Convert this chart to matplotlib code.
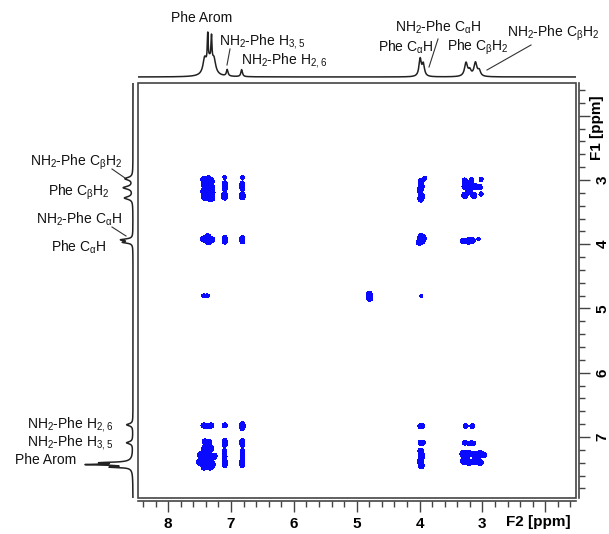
import numpy as np
import matplotlib.pyplot as plt
from matplotlib.lines import Line2D
from matplotlib.patches import Rectangle

plt.rcParams['font.family'] = 'Liberation Sans'
plt.rcParams['mathtext.fontset'] = 'custom'
plt.rcParams['mathtext.rm'] = 'Liberation Sans'
plt.rcParams['mathtext.it'] = 'Liberation Sans'

# 1D projection along F2 (top): ppm, height, half width
top_ppm = [7.37, 7.31, 7.42, 7.27, 7.34, 7.06, 6.83, 3.99, 3.94, 3.26, 3.20, 3.11, 3.05]
top_h = [0.50, 0.45, 0.25, 0.22, 0.30, 0.12, 0.13, 0.32, 0.22, 0.25, 0.10, 0.25, 0.10]
top_w = [0.008, 0.008, 0.03, 0.03, 0.06, 0.015, 0.015, 0.022, 0.022, 0.028, 0.025, 0.028, 0.025]

# 1D projection along F1 (left)
left_ppm = [7.43, 7.40, 7.47, 7.42, 7.09, 6.81, 3.97, 3.93, 3.28, 3.12, 2.98]
left_h = [0.70, 0.45, 0.35, 0.20, 0.12, 0.12, 0.18, 0.22, 0.16, 0.18, 0.15]
left_w = [0.008, 0.008, 0.008, 0.04, 0.02, 0.02, 0.015, 0.015, 0.025, 0.025, 0.025]

# cross peaks (F2 ppm, F1 ppm, amplitude), grouped by F1 row
cb_row = [(7.44, 2.99, 1.4), (7.36, 2.98, 1.6), (7.31, 3.02, 1.4),
          (7.42, 3.08, 1.6), (7.35, 3.10, 1.7), (7.30, 3.12, 1.5),
          (7.44, 3.18, 1.4), (7.36, 3.20, 1.7), (7.30, 3.20, 1.5),
          (7.42, 3.27, 1.6), (7.35, 3.28, 1.6), (7.30, 3.28, 1.4),
          (7.10, 2.96, 0.8), (7.10, 3.06, 1.2), (7.10, 3.13, 1.2), (7.10, 3.23, 1.3), (7.10, 3.27, 1.3),
          (6.82, 2.96, 0.8), (6.82, 3.06, 1.1), (6.82, 3.13, 1.1), (6.82, 3.23, 1.2), (6.82, 3.27, 1.2),
          (3.98, 3.02, 1.4), (3.97, 3.10, 1.4), (3.99, 3.16, 1.4), (3.97, 3.25, 1.5), (3.98, 3.30, 1.4),
          (3.91, 2.97, 0.8),
          (3.28, 3.01, 1.3), (3.17, 3.00, 1.0), (3.02, 2.99, 0.9),
          (3.28, 3.10, 1.5), (3.20, 3.08, 1.5), (3.12, 3.10, 1.4), (3.04, 3.11, 1.1),
          (3.28, 3.24, 1.8), (3.14, 3.24, 1.8), (3.21, 3.17, 1.2), (3.02, 3.22, 0.9)]
ca_row = [(7.44, 3.92, 1.4), (7.37, 3.88, 1.4), (7.36, 3.96, 1.4), (7.30, 3.93, 1.4),
          (7.10, 3.90, 1.1), (7.10, 3.96, 1.1), (6.82, 3.90, 1.0), (6.82, 3.96, 1.0),
          (3.98, 3.88, 1.5), (3.96, 3.95, 1.5), (4.01, 3.97, 1.4), (3.94, 3.90, 1.4),
          (3.30, 3.95, 1.5), (3.22, 3.95, 1.7), (3.16, 3.94, 1.3), (3.06, 3.92, 0.7)]
water_row = [(4.80, 4.78, 1.7), (4.79, 4.84, 1.7), (7.44, 4.80, 0.7), (7.37, 4.80, 0.7),
             (3.97, 4.80, 0.7)]
h26_row = [(7.44, 6.82, 1.1), (7.37, 6.83, 1.2), (7.31, 6.82, 1.0), (7.10, 6.82, 1.2),
           (6.82, 6.80, 1.2), (6.82, 6.86, 1.2), (3.99, 6.83, 0.9), (3.95, 6.83, 0.9),
           (3.27, 6.83, 1.1), (3.16, 6.83, 1.1)]
h35_row = [(7.42, 7.07, 1.2), (7.35, 7.08, 1.2), (7.10, 7.06, 1.1), (7.10, 7.12, 1.1),
           (6.82, 7.06, 1.0), (6.82, 7.12, 1.0), (3.99, 7.09, 0.9), (3.94, 7.09, 0.9),
           (3.28, 7.09, 1.0), (3.20, 7.10, 0.9), (3.14, 7.10, 0.9)]
arom_row = [(7.42, 7.18, 1.6), (7.32, 7.18, 1.5), (7.48, 7.28, 2.0), (7.37, 7.30, 2.6),
            (7.27, 7.30, 1.8), (7.50, 7.39, 1.8), (7.40, 7.40, 2.4), (7.30, 7.42, 1.8),
            (7.43, 7.47, 1.5), (7.33, 7.47, 1.5), (7.38, 7.24, 1.5), (7.35, 7.35, 1.5),
            (7.10, 7.22, 1.0), (7.10, 7.30, 1.0), (7.10, 7.38, 1.0), (7.10, 7.44, 1.0),
            (6.82, 7.22, 1.0), (6.82, 7.30, 1.0), (6.82, 7.38, 1.0), (6.82, 7.44, 1.0),
            (3.98, 7.22, 1.6), (3.96, 7.30, 1.7), (3.99, 7.38, 1.6), (3.97, 7.45, 1.5),
            (3.31, 7.26, 1.7), (3.22, 7.25, 1.7), (3.13, 7.27, 1.6), (3.04, 7.26, 1.7),
            (2.97, 7.28, 1.3), (3.30, 7.38, 1.7), (3.21, 7.40, 1.6), (3.12, 7.38, 1.7),
            (3.03, 7.40, 1.5), (3.26, 7.32, 1.3), (3.08, 7.33, 1.3)]

W, H = 609, 534


def box(x0, y0, x1, y1):
    return [x0 / W, 1 - y1 / H, (x1 - x0) / W, (y1 - y0) / H]


def fp(x, y):
    return x / W, 1 - y / H


def lorentz(x, ppm, h, w):
    s = np.zeros_like(x)
    for p, hh, ww in zip(ppm, h, w):
        s += hh * ww**2 / ((x - p)**2 + ww**2)
    return s / s.max()


fig = plt.figure(figsize=(6.09, 5.34), dpi=100)
ax = fig.add_axes(box(138, 83, 576, 498))
ax_top = fig.add_axes(box(138, 30, 576, 80))
ax_left = fig.add_axes(box(82, 83, 136, 498))

F2_LIM = (8.48, 1.51)
F1_LIM = (7.95, 1.49)

# 2D map
f2 = np.linspace(1.51, 8.48, 900)
f1 = np.linspace(1.49, 7.95, 850)
G2, G1 = np.meshgrid(f2, f1)
Z = np.zeros_like(G2)
sig = 0.03
for pk in cb_row + ca_row + water_row + h26_row + h35_row + arom_row:
    Z += pk[2] * np.exp(-((G2 - pk[0])**2 + (G1 - pk[1])**2) / (2 * sig**2))
ax.contourf(f2, f1, Z, levels=[0.5, Z.max() + 1], colors=['#0a0aff'])
ax.set_xlim(F2_LIM)
ax.set_ylim(F1_LIM)

for s in ['left', 'top']:
    ax.spines[s].set_visible(False)
for s in ['bottom', 'right']:
    ax.spines[s].set_position(('outward', 2))
    ax.spines[s].set_color('#444444')
    ax.spines[s].set_linewidth(1.2)
ax.add_patch(Rectangle((0, 0), 1, 1, transform=ax.transAxes, fill=False,
                       ec='#444444', lw=1.2, clip_on=False))

ax.set_xticks(np.arange(2, 9))
ax.set_xticklabels(['', '3', '4', '5', '6', '7', '8'])
ax.set_xticks(np.arange(1.6, 8.5, 0.2), minor=True)
ax.yaxis.tick_right()
ax.set_yticks(np.arange(2, 8))
ax.set_yticklabels(['', '3', '4', '5', '6', '7'], rotation=90, va='center')
ax.set_yticks(np.arange(1.6, 7.95, 0.2), minor=True)
ax.tick_params(axis='both', which='major', direction='out', length=8, width=1,
               color='#444444', labelsize=11, pad=4)
ax.tick_params(axis='both', which='minor', direction='out', length=4, width=1,
               color='#444444')
for lab in ax.get_xticklabels() + ax.get_yticklabels():
    lab.set_fontweight('bold')
fig.text(*fp(538, 522), 'F2 [ppm]', ha='center', va='center', fontsize=11, fontweight='bold')
fig.text(*fp(597, 128), 'F1 [ppm]', ha='center', va='center', fontsize=11,
         fontweight='bold', rotation=90)

# top projection
xs = np.linspace(1.51, 8.48, 3000)
ax_top.plot(xs, lorentz(xs, top_ppm, top_h, top_w), color='#222222', lw=1.1)
ax_top.set_xlim(F2_LIM)
ax_top.set_ylim(-0.067, 1.044)
ax_top.axis('off')

# left projection
ys = np.linspace(1.49, 7.95, 3000)
ax_left.plot(lorentz(ys, left_ppm, left_h, left_w), ys, color='#222222', lw=1.1)
ax_left.set_ylim(F1_LIM)
ax_left.set_xlim(1.0625, -0.0625)
ax_left.axis('off')

# labels
fs = 10
tc = '#111111'
labels = [
    ((202, 18), 'Phe Arom', 'center'),
    ((219, 41), r'NH$_2$-Phe H$_{3,5}$', 'left'),
    ((241, 61), r'NH$_2$-Phe H$_{2,6}$', 'left'),
    ((395, 27), r'NH$_2$-Phe C$_\mathrm{α}$H', 'left'),
    ((378, 47), r'Phe C$_\mathrm{α}$H', 'left'),
    ((447, 47), r'Phe C$_\mathrm{β}$H$_2$', 'left'),
    ((507, 33), r'NH$_2$-Phe C$_\mathrm{β}$H$_2$', 'left'),
    ((122, 162), r'NH$_2$-Phe C$_\mathrm{β}$H$_2$', 'right'),
    ((110, 192), r'Phe C$_\mathrm{β}$H$_2$', 'right'),
    ((122, 219), r'NH$_2$-Phe C$_\mathrm{α}$H', 'right'),
    ((107, 247), r'Phe C$_\mathrm{α}$H', 'right'),
    ((113, 424), r'NH$_2$-Phe H$_{2,6}$', 'right'),
    ((113, 442), r'NH$_2$-Phe H$_{3,5}$', 'right'),
    ((76, 460), 'Phe Arom', 'right'),
]
for (x, y), txt, ha in labels:
    fig.text(*fp(x, y), txt, ha=ha, va='center', fontsize=fs, color=tc)

leaders = [((230, 49), (227, 65)), ((438, 39), (429, 67)), ((531, 45), (487, 70)),
           ((112, 169), (125, 178)), ((112, 227), (126, 236))]
for a, b in leaders:
    xa, ya = fp(*a)
    xb, yb = fp(*b)
    fig.add_artist(Line2D([xa, xb], [ya, yb], transform=fig.transFigure,
                          color='#333333', lw=0.8))

fig.savefig('out.png', dpi=100)
